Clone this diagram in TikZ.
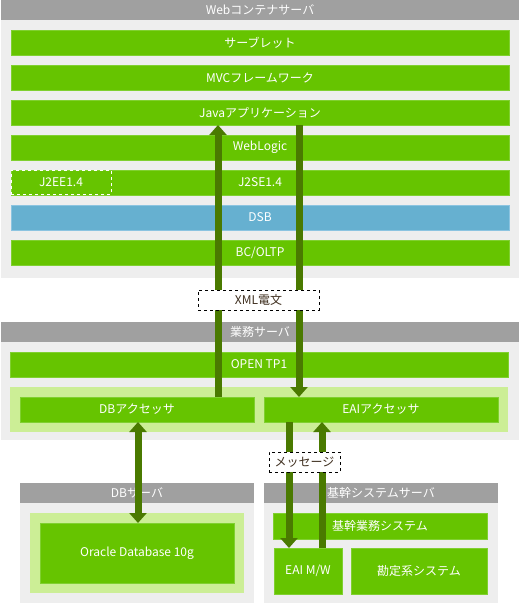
\documentclass[tikz,border=0pt]{standalone}
\usepackage{fontspec}
\setmainfont{Noto Sans CJK JP}
\usetikzlibrary{positioning, arrows.meta}
\definecolor{barGreen}{RGB}{102,196,0}
\definecolor{edgeGreen}{RGB}{128,208,48}
\definecolor{paleGreen}{RGB}{204,238,150}
\definecolor{panelGray}{RGB}{238,238,238}
\definecolor{headGray}{RGB}{160,160,160}
\definecolor{dsbBlue}{RGB}{102,176,208}
\definecolor{edgeBlue}{RGB}{140,196,224}
\definecolor{arrowGreen}{RGB}{74,122,0}
\definecolor{noteBrown}{RGB}{64,48,32}

\begin{document}
\begin{tikzpicture}[x=1pt,y=-1pt,>={Triangle[width=17pt,length=10pt]},
  node distance=10pt,font=\fontsize{12}{14}\selectfont,
  box/.style={inner sep=0pt,outer sep=0pt,anchor=north west,text=white},
  bar node/.style={box,fill=barGreen,draw=edgeGreen,minimum height=25pt},
  head node/.style={box,fill=headGray,minimum height=20pt},
  panel node/.style={box,fill=panelGray},
  zone node/.style={box,fill=paleGreen},
  note node/.style={box,fill=white,draw=black,dashed,text=noteBrown,minimum height=20pt},
  flow/.style={draw=arrowGreen,line width=7pt}]
  \useasboundingbox (0,0) rectangle (519,603);

  % Web container server
  \node[head node, minimum width=518pt] (webhead) at (1,0) {Webコンテナサーバ};
  \node[panel node, minimum width=518pt, minimum height=258pt] (webpanel) at (1,20) {};
  \node[bar node, minimum width=498pt] (servlet) at (11,30) {サーブレット};
  \node[bar node, minimum width=498pt, below=of servlet] (mvc) {MVCフレームワーク};
  \node[bar node, minimum width=498pt, below=of mvc] (javaapp) {Javaアプリケーション};
  \node[bar node, minimum width=498pt, below=of javaapp] (weblogic) {WebLogic};
  \node[bar node, minimum width=498pt, below=of weblogic] (j2se) {J2SE1.4};
  \node[box, draw=white, dashed, minimum width=100pt, minimum height=24pt] (j2ee) at (11,170) {J2EE1.4};
  \node[bar node, fill=dsbBlue, draw=edgeBlue, minimum width=498pt, below=of j2se] (dsb) {DSB};
  \node[bar node, minimum width=498pt, below=of dsb] (bcoltp) {BC/OLTP};

  % business server
  \node[head node, minimum width=518pt] (bizhead) at (1,322) {業務サーバ};
  \node[panel node, minimum width=518pt, minimum height=98pt] (bizpanel) at (1,342) {};
  \node[bar node, minimum width=498pt] (opentp) at (10,352) {OPEN TP1};
  \node[zone node, minimum width=498pt, minimum height=45pt] (acczone) at (10,387) {};
  \node[bar node, minimum width=234pt] (dbacc) at (20,397) {DBアクセッサ};
  \node[bar node, minimum width=234pt, right=of dbacc] (eaiacc) {EAIアクセッサ};

  % DB server
  \node[head node, minimum width=234pt] (dbhead) at (20,483) {DBサーバ};
  \node[panel node, minimum width=234pt, minimum height=100pt] (dbpanel) at (20,503) {};
  \node[zone node, minimum width=214pt, minimum height=80pt] (dbzone) at (30,513) {};
  \node[bar node, minimum width=194pt, minimum height=60pt] (oracle) at (40,523) {Oracle Database 10g};

  % core system server
  \node[head node, minimum width=234pt] (corehead) at (264,483) {基幹システムサーバ};
  \node[panel node, minimum width=234pt, minimum height=100pt] (corepanel) at (264,503) {};
  \node[bar node, minimum width=214pt, minimum height=26pt] (corebiz) at (273,513) {基幹業務システム};
  \node[bar node, minimum width=68pt, minimum height=46pt] (eaimw) at (274,548) {EAI M/W};
  \node[bar node, minimum width=136pt, minimum height=46pt] (account) at (351,548) {勘定系システム};

  % data flows
  \coordinate (upx) at (218,0);
  \coordinate (downx) at (299,0);
  \coordinate (dbx) at (138,0);
  \coordinate (sendx) at (289,0);
  \coordinate (backx) at (322,0);
  \draw[flow,->] (dbacc.north -| upx) -- (javaapp.south -| upx);
  \draw[flow,->] (javaapp.south -| downx) -- (eaiacc.north -| downx);
  \draw[flow,<->] (dbacc.south -| dbx) -- (oracle.north -| dbx);
  \draw[flow,->] (eaiacc.south -| sendx) -- (eaimw.north -| sendx);
  \draw[flow,->] (eaimw.north -| backx) -- (eaiacc.south -| backx);

  \node[note node, minimum width=121pt] (xmlmsg) at (198,290) {XML電文};
  \node[note node, minimum width=71pt] (message) at (269,452) {メッセージ};
\end{tikzpicture}
\end{document}
